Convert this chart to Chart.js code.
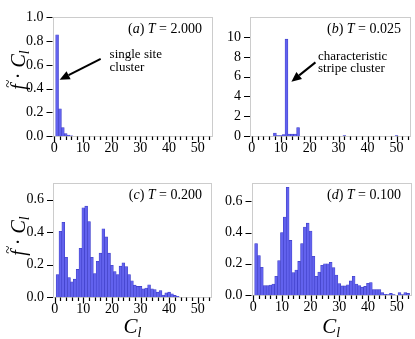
<!DOCTYPE html>
<html lang="en">
<head>
<meta charset="UTF-8">
<title>Cluster size distributions</title>
<script src="https://cdn.jsdelivr.net/npm/chart.js"></script>
<style>
  body { margin: 0; background: #fff; }
  #wrap { position: relative; width: 415px; height: 339px; }
  canvas { position: absolute; }
</style>
</head>
<body>
<div id="wrap">
  <canvas id="cA" width="214" height="166" style="left:0;top:0"></canvas>
  <canvas id="cB" width="201" height="166" style="left:214px;top:0"></canvas>
  <canvas id="cC" width="214" height="173" style="left:0;top:166px"></canvas>
  <canvas id="cD" width="201" height="173" style="left:214px;top:166px"></canvas>
</div>
<script>
// cluster sizes and weighted frequencies f~ * C_l
const sizesA = [1, 2, 3, 4, 5, 6];
const valuesA = [0.853, 0.23, 0.07, 0.02, 0.007, 0.002];

const sizesB = [8, 9, 10, 11, 12, 13, 14, 15, 16, 32, 50];
const valuesB = [0.3, 0.05, 0.05, 0.15, 9.8, 0.2, 0.2, 0.2, 0.85, 0.03, 0.03];

const valuesC = [0.138, 0.405, 0.46, 0.245, 0.12, 0.093, 0.11, 0.17, 0.30, 0.55,
  0.56, 0.465, 0.245, 0.145, 0.22, 0.27, 0.42, 0.37, 0.27, 0.195,
  0.157, 0.138, 0.19, 0.21, 0.187, 0.138, 0.10, 0.073, 0.065, 0.065,
  0.05, 0.055, 0.075, 0.05, 0.045, 0.03, 0.04, 0.012, 0.025, 0.03,
  0.02, 0.01, 0.004];

const valuesD = [0.33, 0.253, 0.178, 0.06, 0.06, 0.064, 0.07, 0.12, 0.22, 0.40,
  0.50, 0.69, 0.35, 0.143, 0.16, 0.215, 0.33, 0.435, 0.46, 0.41,
  0.248, 0.12, 0.147, 0.19, 0.20, 0.20, 0.21, 0.175, 0.128, 0.073,
  0.058, 0.058, 0.065, 0.09, 0.12, 0.07, 0.06, 0.05, 0.055, 0.075,
  0.08, 0.035, 0.035, 0.035, 0.015, 0.005, 0.003, 0.01, 0.003, 0,
  0.015, 0.003, 0.015, 0.01];

// sizes for the dense panels are just 1..n
const sizesC = valuesC.map((_, i) => i + 1);
const sizesD = valuesD.map((_, i) => i + 1);

const xTicks = [0, 10, 20, 30, 40, 50];
const yTicksA = [0, 0.2, 0.4, 0.6, 0.8, 1.0];
const yTicksB = [0, 2, 4, 6, 8, 10];
const yTicksCD = [0, 0.2, 0.4, 0.6];

const SERIF = "'Liberation Serif', 'DejaVu Serif', serif";
Chart.defaults.font.family = SERIF;
Chart.defaults.color = '#000';

// draw a run of plain / italic pieces, right aligned
function drawParts(ctx, parts, xRight, baseline, size) {
  let w = 0;
  parts.forEach(p => {
    ctx.font = (p.i ? 'italic ' : '') + size + 'px ' + SERIF;
    w += ctx.measureText(p.t).width;
  });
  let x = xRight - w;
  ctx.textAlign = 'left';
  ctx.textBaseline = 'alphabetic';
  parts.forEach(p => {
    ctx.font = (p.i ? 'italic ' : '') + size + 'px ' + SERIF;
    ctx.fillText(p.t, x, baseline);
    x += ctx.measureText(p.t).width;
  });
}

function arrow(ctx, x1, y1, x2, y2) {
  const ang = Math.atan2(y2 - y1, x2 - x1);
  const hl = 10, hw = 4.5;
  const bx = x2 - hl * Math.cos(ang), by = y2 - hl * Math.sin(ang);
  ctx.strokeStyle = '#000';
  ctx.lineWidth = 2;
  ctx.beginPath();
  ctx.moveTo(x1, y1);
  ctx.lineTo(bx, by);
  ctx.stroke();
  ctx.fillStyle = '#000';
  ctx.beginPath();
  ctx.moveTo(x2, y2);
  ctx.lineTo(bx + hw * Math.sin(ang), by - hw * Math.cos(ang));
  ctx.lineTo(bx - hw * Math.sin(ang), by + hw * Math.cos(ang));
  ctx.closePath();
  ctx.fill();
}

// f~ . C_l, rotated
function yTitle(ctx, cx, cy) {
  ctx.save();
  ctx.translate(cx, cy);
  ctx.rotate(-Math.PI / 2);
  ctx.fillStyle = '#000';
  ctx.textBaseline = 'alphabetic';
  ctx.textAlign = 'left';
  const big = 'italic 20px ' + SERIF, small = 'italic 14px ' + SERIF, up = '20px ' + SERIF;
  ctx.font = big; const wf = ctx.measureText('f').width, wC = ctx.measureText('C').width;
  ctx.font = up; const wd = ctx.measureText(' \u00b7 ').width;
  ctx.font = small; const wl = ctx.measureText('l').width;
  let x = -(wf + wd + wC + wl) / 2;
  ctx.font = big; ctx.fillText('f', x, 0);
  ctx.font = '15px ' + SERIF; ctx.fillText('~', x + 2, -12);
  x += wf;
  ctx.font = up; ctx.fillText(' \u00b7 ', x, 0); x += wd;
  ctx.font = big; ctx.fillText('C', x, 0); x += wC;
  ctx.font = small; ctx.fillText('l', x, 4);
  ctx.restore();
}

function xTitle(ctx, cx, baseline) {
  ctx.save();
  ctx.fillStyle = '#000';
  ctx.textBaseline = 'alphabetic';
  ctx.textAlign = 'left';
  ctx.font = 'italic 21px ' + SERIF; const wC = ctx.measureText('C').width;
  ctx.font = 'italic 14px ' + SERIF; const wl = ctx.measureText('l').width;
  const x = cx - (wC + wl) / 2;
  ctx.font = 'italic 21px ' + SERIF; ctx.fillText('C', x, baseline);
  ctx.font = 'italic 14px ' + SERIF; ctx.fillText('l', x + wC, baseline + 4);
  ctx.restore();
}

const decor = {
  id: 'decor',
  beforeDatasetsDraw(chart) {
    const { ctx, chartArea: a } = chart;
    ctx.save();
    ctx.strokeStyle = '#cccccc';
    ctx.lineWidth = 1;
    ctx.strokeRect(Math.round(a.left) + 0.5, Math.round(a.top) + 0.5,
      Math.round(a.right - a.left) - 1, Math.round(a.bottom - a.top));
    ctx.restore();
  },
  afterDraw(chart, args, o) {
    const { ctx, chartArea: a, scales: { x, y } } = chart;
    ctx.save();
    ctx.strokeStyle = '#000';
    ctx.lineWidth = 1.2;
    ctx.beginPath();
    const yb = Math.round(a.bottom) + 0.5;
    for (let v = 0; v <= 54; v += 2) {
      const px = Math.round(x.getPixelForValue(v)) + 0.5;
      ctx.moveTo(px, yb);
      ctx.lineTo(px, yb + (v % 10 === 0 ? 6 : 3.5));
    }
    y.ticks.forEach(t => {
      const py = Math.round(y.getPixelForValue(t.value)) + 0.5;
      ctx.moveTo(a.left, py);
      ctx.lineTo(a.left - 6, py);
    });
    ctx.stroke();

    ctx.fillStyle = '#000';
    drawParts(ctx, [{ t: '(' }, { t: o.tag, i: true }, { t: ') ' }, { t: 'T', i: true }, { t: ' = ' + o.temp }],
      a.right - 10, a.top + 16, 14);

    if (o.note) {
      const n = o.note;
      arrow(ctx, x.getPixelForValue(n.tail[0]), y.getPixelForValue(n.tail[1]),
        x.getPixelForValue(n.head[0]), y.getPixelForValue(n.head[1]));
      ctx.fillStyle = '#000';
      ctx.font = '13px ' + SERIF;
      ctx.textAlign = 'left';
      ctx.textBaseline = 'alphabetic';
      const tx = x.getPixelForValue(n.at[0]);
      const ty = y.getPixelForValue(n.at[1]);
      n.lines.forEach((s, i) => ctx.fillText(s, tx, ty + i * 12.5));
    }
    if (o.ytitle) yTitle(ctx, 25, o.ytitle);
    if (o.xtitle) xTitle(ctx, (a.left + a.right) / 2, o.xtitle);
    ctx.restore();
  }
};

function makePanel(id, sizes, values, ymax, yTicks, yDigits, box, deco) {
  const canvas = document.getElementById(id);
  const W = canvas.width, H = canvas.height;
  return new Chart(canvas, {
    type: 'bar',
    data: {
      datasets: [{
        data: sizes.map((s, i) => ({ x: s, y: values[i] })),
        backgroundColor: '#6262ee',
        borderColor: '#3c3cc4',
        borderWidth: 0.6,
        barPercentage: 1,
        categoryPercentage: 1
      }]
    },
    options: {
      responsive: false,
      animation: false,
      devicePixelRatio: 1,
      events: [],
      layout: { padding: { left: 0, top: box.t, right: W - box.r, bottom: 0 } },
      plugins: { legend: { display: false }, tooltip: { enabled: false }, decor: deco },
      scales: {
        x: {
          type: 'linear',
          offset: false,
          min: -0.6,
          max: 55,
          grid: { display: false, drawTicks: false, offset: false },
          border: { display: false },
          afterBuildTicks: s => { s.ticks = xTicks.map(v => ({ value: v })); },
          afterFit: s => { s.height = H - box.b; },
          ticks: { autoSkip: false, maxRotation: 0, padding: 4, font: { size: 14 } }
        },
        y: {
          min: 0,
          max: ymax,
          grid: { display: false, drawTicks: false },
          border: { display: false },
          afterBuildTicks: s => { s.ticks = yTicks.map(v => ({ value: v })); },
          afterFit: s => { s.width = box.l; },
          ticks: {
            autoSkip: false, padding: 9, font: { size: 14 },
            callback: v => v.toFixed(yDigits)
          }
        }
      }
    },
    plugins: [decor]
  });
}

makePanel('cA', sizesA, valuesA, 1.0, yTicksA, 1,
  { l: 52.5, t: 7, r: 212, b: 136 },
  { tag: 'a', temp: '2.000', ytitle: 70,
    note: { tail: [16.2, 0.65], head: [1.9, 0.475], at: [19.3, 0.655], lines: ['single site', 'cluster'] } });

makePanel('cB', sizesB, valuesB, 12, yTicksB, 0,
  { l: 36, t: 7, r: 197, b: 136 },
  { tag: 'b', temp: '0.025',
    note: { tail: [22.0, 7.45], head: [13.7, 5.5], at: [22.9, 7.7], lines: ['characteristic', 'stripe cluster'] } });

makePanel('cC', sizesC, valuesC, 0.7, yTicksCD, 1,
  { l: 53, t: 3, r: 212, b: 131 },
  { tag: 'c', temp: '0.200', ytitle: 70, xtitle: 167 });

makePanel('cD', sizesD, valuesD, 0.715, yTicksCD, 1,
  { l: 37.5, t: 2, r: 197, b: 129 },
  { tag: 'd', temp: '0.100', xtitle: 167 });
</script>
</body>
</html>
